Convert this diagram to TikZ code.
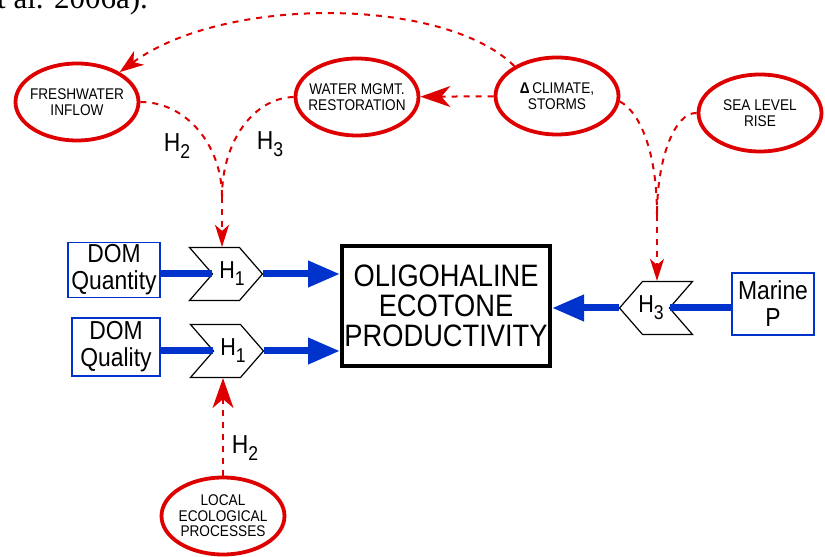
\documentclass[tikz,border=0pt]{standalone}
\usepackage{fontspec}
\setmainfont{Liberation Sans}[FakeStretch=0.88]
\newfontfamily\citefont{Liberation Serif}
\usetikzlibrary{shapes.geometric,shapes.symbols,arrows.meta,calc}
\definecolor{driverred}{RGB}{222,0,0}
\definecolor{flowblue}{RGB}{0,51,204}
\newcommand{\Hsub}[1]{H\raisebox{-7pt}{\fontsize{20}{20}\selectfont#1}}

\begin{document}
\begin{tikzpicture}[x=1pt,y=1pt]
    \tikzstyle{driver}=[ellipse,draw=driverred,line width=3.8pt,fill=white,minimum width=123pt,minimum height=77pt,inner xsep=-14pt,inner ysep=0pt,align=center,font=\fontsize{15.5}{15.5}\selectfont]
    \tikzstyle{source}=[rectangle,draw=flowblue,line width=1.5pt,fill=white,align=center,inner sep=1pt,font=\fontsize{26}{27}\selectfont]
    \tikzstyle{gate}=[signal,draw=black,line width=1.2pt,fill=white,minimum width=73pt,minimum height=53pt,signal pointer angle=98,inner sep=0pt,font=\fontsize{24.5}{24.5}\selectfont]
    \tikzstyle{target}=[rectangle,draw=black,line width=4pt,minimum width=208pt,minimum height=120pt,align=center,inner sep=0pt,font=\fontsize{31}{30}\selectfont]
    \tikzstyle{flow}=[draw=flowblue,line width=7pt]
    \tikzstyle{flow arrow}=[flow,-{Triangle[length=32pt,width=25pt]}]
    \tikzstyle{link}=[draw=driverred,line width=2pt,dash pattern=on 6pt off 6pt]
    \tikzstyle{big tip}=[-{Stealth[length=30pt,width=21pt,inset=9pt]}]
    \tikzstyle{mid tip}=[-{Stealth[length=24pt,width=17pt,inset=7pt]}]
    \tikzstyle{small tip}=[-{Stealth[length=22pt,width=14pt,inset=6pt]}]
    \tikzstyle{hlabel}=[font=\fontsize{26}{26}\selectfont,inner sep=0pt]

    \useasboundingbox (0,0) rectangle (825,557);

    % Citation fragment at the top
    \node[anchor=base west,inner sep=0pt,font=\citefont\fontsize{31}{31}\selectfont] (cite) at (-3,548) {t al. 2006a).};

    % Draw the driver ellipses
    \foreach \name/\x/\y/\txt in {fresh/77/455/{FRESHWATER\\INFLOW},
                                  water/357/460/{WATER MGMT.\\RESTORATION},
                                  climate/557/461/{\textbf{Δ}\,CLIMATE,\\STORMS},
                                  sea/760/444/{SEA LEVEL\\RISE},
                                  local/223/41/{LOCAL\\ECOLOGICAL\\PROCESSES}}
        \node[driver] (\name) at (\x,\y) {\txt};

    % Draw the sources
    \node[source,minimum width=92pt,minimum height=55pt] (quantity) at (114,287) {DOM\\Quantity};
    \node[source,minimum width=88pt,minimum height=58pt] (quality) at (116,210) {DOM\\Quality};
    \node[source,minimum width=82pt,minimum height=62pt] (marine) at (773,253) {Marine\\P};

    % Draw the hypothesis gates
    \node[gate,signal to=east,signal from=west] (h1a) at (226,283) {\hspace*{6pt}\Hsub{1}\hspace*{-6pt}};
    \node[gate,signal to=east,signal from=west] (h1b) at (227,206) {\hspace*{6pt}\Hsub{1}\hspace*{-6pt}};
    \node[gate,signal to=west,signal from=east] (h3) at (656,249) {\hspace*{-5pt}\Hsub{3}\hspace*{5pt}};

    % Draw the ecotone box
    \node[target] (ecotone) at (446,251) {OLIGOHALINE\\ECOTONE\\PRODUCTIVITY};

    % Connect the sources through the gates to the ecotone
    \draw[flow] (h1a.west -| quantity.east) -- (h1a.west);
    \draw[flow arrow] (h1a.east) -- (h1a.east -| ecotone.west);
    \draw[flow] (h1b.west -| quality.east) -- (h1b.west);
    \draw[flow arrow] (h1b.east) -- (h1b.east -| ecotone.west);
    \draw[flow] (h3.east -| marine.west) -- (h3.east);
    \draw[flow arrow] (h3.west) -- (h3.west -| ecotone.east);

    % Connect the drivers to the gates
    \coordinate (m1) at (222,360);
    \coordinate (m2) at (657,342);
    \draw[link] (fresh.east) .. controls (187,455) and (222,411) .. (m1);
    \draw[link] (water.west) .. controls (254,459) and (222,416) .. (m1);
    \draw[link,small tip] (m1) -- (m1 |- h1a.north);
    \draw[link] (climate.-5) .. controls (640,445) and (657,405) .. (m2);
    \draw[link] (sea.west) .. controls (675,445) and (657,399) .. (m2);
    \draw[link,small tip] (m2) -- (m2 |- h3.north);
    \draw[link,big tip] (climate) -- (water);
    \draw[link,mid tip] (climate.145) .. controls (445,560) and (225,562) .. (fresh.35);
    \draw[link,big tip] (local) -- (local |- h1b.south);

    % Annotate the links
    \node[hlabel] (h2top) at (177,411) {\Hsub{2}};
    \node[hlabel] (h3top) at (270,413) {\Hsub{3}};
    \node[hlabel] (h2low) at (245,109) {\Hsub{2}};
\end{tikzpicture}
\end{document}
